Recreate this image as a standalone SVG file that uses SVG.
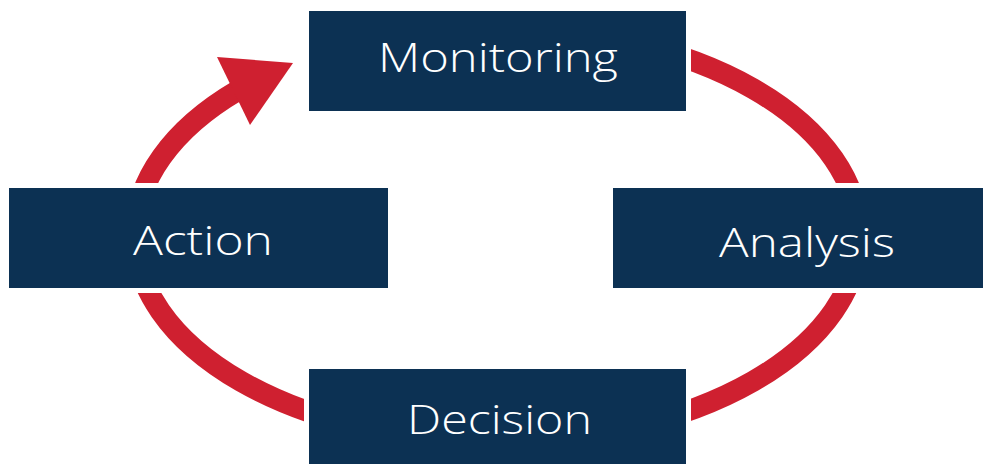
<svg xmlns="http://www.w3.org/2000/svg" width="983" height="464" viewBox="0 0 983 464">
<style>
.box{fill:#0C3153}
.lbl{fill:#ffffff;font-family:"Open Sans",Lato,"Liberation Sans",sans-serif;font-weight:300;font-size:40px;text-anchor:middle}
.arc{fill:none;stroke:#CF2030;stroke-width:21;stroke-linecap:butt}
.head{fill:#CF2030}
</style>
<defs>
<mask id="gap" maskUnits="userSpaceOnUse" x="0" y="0" width="983" height="464">
<rect x="0" y="0" width="983" height="464" fill="#fff"/>
<rect x="304" y="6" width="387" height="110" fill="#000"/>
<rect x="4" y="183" width="389" height="110" fill="#000"/>
<rect x="608" y="183" width="380" height="110" fill="#000"/>
<rect x="304" y="364" width="387" height="110" fill="#000"/>
</mask>
</defs>
<rect width="983" height="464" fill="#fff"/>
<g id="connectors" mask="url(#gap)">
<path class="arc" d="M497,28 A362,207 0 0 1 859,235"/>
<path class="arc" d="M859,235 A362,207 0 0 1 497,442"/>
<path class="arc" d="M497,442 A362,207 0 0 1 135,235"/>
<path class="arc" d="M135,235 A362,207 0 0 1 238,90.4"/>
<polygon class="head" points="217,57 293,63 250,125"/>
</g>
<g id="monitoring"><rect class="box" x="309" y="11" width="377" height="100"/><text class="lbl" x="498" y="72" textLength="240" lengthAdjust="spacingAndGlyphs">Monitoring</text></g>
<g id="action"><rect class="box" x="9" y="188" width="379" height="100"/><text class="lbl" x="203" y="255" textLength="140" lengthAdjust="spacingAndGlyphs">Action</text></g>
<g id="analysis"><rect class="box" x="613" y="188" width="370" height="100"/><text class="lbl" x="807" y="257" textLength="176" lengthAdjust="spacingAndGlyphs">Analysis</text></g>
<g id="decision"><rect class="box" x="309" y="369" width="377" height="95"/><text class="lbl" x="499.5" y="434" textLength="185" lengthAdjust="spacingAndGlyphs">Decision</text></g>
</svg>
